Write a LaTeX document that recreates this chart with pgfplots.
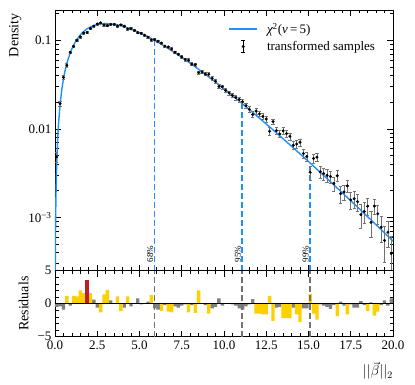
\documentclass[border=0pt]{standalone}
\usepackage{fontspec}
\setmainfont{Liberation Serif}
\usepackage{pgfplots}
\pgfplotsset{compat=1.18}

\definecolor{curveblue}{RGB}{30,144,255}
\definecolor{resgold}{RGB}{255,208,0}
\definecolor{resgray}{RGB}{128,128,128}
\definecolor{resred}{RGB}{190,30,40}
\definecolor{qgray}{RGB}{115,115,115}

% histogram of transformed samples: bin centre, density, error
\pgfplotstableread{
x y e
0.1 0.004830 0.000613
0.3 0.019311 0.001251
0.5 0.038187 0.001745
0.7 0.052319 0.002138
0.9 0.073134 0.002455
1.1 0.085258 0.002714
1.3 0.099681 0.002926
1.5 0.109203 0.003099
1.7 0.120802 0.003238
1.9 0.122641 0.003348
2.1 0.136122 0.003433
2.3 0.144775 0.003496
2.5 0.152725 0.003540
2.7 0.157583 0.003567
2.9 0.149040 0.003580
3.1 0.146534 0.003580
3.3 0.151316 0.003569
3.5 0.150958 0.003549
3.7 0.144943 0.003519
3.9 0.149546 0.003482
4.1 0.144185 0.003439
4.3 0.134392 0.003390
4.5 0.135132 0.003337
4.7 0.129061 0.003279
4.9 0.121895 0.003219
5.1 0.119906 0.003154
5.3 0.114328 0.003088
5.5 0.108748 0.003021
5.7 0.100842 0.002952
5.9 0.101763 0.002881
6.1 0.097411 0.002810
6.3 0.093123 0.002739
6.5 0.085982 0.002666
6.7 0.084024 0.002594
6.9 0.079797 0.002523
7.1 0.073247 0.002452
7.3 0.069600 0.002381
7.5 0.064931 0.002312
7.7 0.060689 0.002243
7.9 0.059685 0.002175
8.1 0.053832 0.002108
8.3 0.052987 0.002042
8.5 0.043052 0.001978
8.7 0.043949 0.001914
8.9 0.041606 0.001852
9.1 0.041262 0.001792
9.3 0.037275 0.001732
9.5 0.034525 0.001674
9.7 0.030156 0.001618
9.9 0.029810 0.001562
10.1 0.027207 0.001509
10.3 0.025422 0.001456
10.5 0.023884 0.001406
10.7 0.022506 0.001356
10.9 0.021476 0.001308
11.1 0.020253 0.001262
11.3 0.018254 0.001216
11.5 0.016623 0.001171
11.7 0.014536 0.001129
11.9 0.015857 0.001087
12.1 0.014769 0.001047
12.3 0.013853 0.001009
12.5 0.012900 0.000971
12.7 0.009391 0.000935
12.9 0.012079 0.000900
13.1 0.009537 0.000866
13.3 0.008764 0.000833
13.5 0.009486 0.000801
13.7 0.008841 0.000771
13.9 0.008238 0.000742
14.1 0.006535 0.000713
14.3 0.006740 0.000685
14.5 0.007060 0.000659
14.7 0.005260 0.000633
14.9 0.004873 0.000609
15.1 0.003229 0.000584
15.3 0.004630 0.000561
15.5 0.004790 0.000539
15.7 0.003276 0.000519
15.9 0.003123 0.000498
16.1 0.002980 0.000477
16.3 0.002893 0.000458
16.5 0.002417 0.000440
16.7 0.002949 0.000423
16.9 0.001855 0.000405
17.1 0.001937 0.000390
17.3 0.002272 0.000373
17.5 0.001578 0.000359
17.7 0.001626 0.000343
17.9 0.001505 0.000330
18.1 0.001076 0.000316
18.3 0.001167 0.000303
18.5 0.001338 0.000292
18.7 0.000879 0.000279
18.9 0.001341 0.000267
19.1 0.001098 0.000257
19.3 0.000775 0.000246
19.5 0.000549 0.000236
19.7 0.000681 0.000226
19.9 0.000390 0.000217
}\samples

\pgfplotsset{
  panel/.style={
    scale only axis, width=338pt,
    xmin=0, xmax=20,
    axis line style={line width=0.8pt},
    tick align=inside, xtick pos=both, ytick pos=both,
    major tick length=6pt, minor tick length=3.5pt,
    every tick/.style={black, line width=0.7pt},
    xtick={0,2.5,5,7.5,10,12.5,15,17.5,20}, minor x tick num=4,
    tick label style={font=\fontsize{13}{15}\selectfont},
    /pgf/number format/assume math mode=true,
    label style={font=\fontsize{14}{16}\selectfont},
  },
  qline/.style={line width=1.3pt, dash pattern=on 6pt off 3pt},
}

\begin{document}
\begin{tikzpicture}
\useasboundingbox (-55pt,-48.3pt) rectangle (360pt,336.7pt);

% ---------------- main panel ----------------
\begin{axis}[
    panel,
    at={(0,66pt)}, anchor=south west,
    height=260.7pt,
    ymode=log, ymin=2.5e-4, ymax=0.22,
    ytick={0.001,0.01,0.1},
    yticklabels={10\textsuperscript{−3},0.01,0.1},
    minor ytick={3e-4,4e-4,5e-4,6e-4,7e-4,8e-4,9e-4,
                 2e-3,3e-3,4e-3,5e-3,6e-3,7e-3,8e-3,9e-3,
                 2e-2,3e-2,4e-2,5e-2,6e-2,7e-2,8e-2,9e-2,0.2},
    xticklabels={},
    ylabel={Density},
    ylabel style={at={(rel axis cs:0,1)}, anchor=south east, yshift=30pt},
    legend style={at={(0.962,0.965)}, anchor=north east, draw=none, fill=none,
                  font=\fontsize{13}{15}\selectfont, row sep=2pt,
                  /tikz/every odd column/.append style={column sep=7pt}},
    legend cell align=left,
]
% quantile markers
\addplot[forget plot, curveblue, qline] coordinates {(5.89,2.5e-4) (5.89,0.0999)};
\addplot[forget plot, curveblue, qline] coordinates {(11.07,2.5e-4) (11.07,0.01932)};
\addplot[forget plot, curveblue, qline] coordinates {(15.09,2.5e-4) (15.09,0.004121)};
\node[rotate=90, anchor=south west, inner sep=1pt, font=\fontsize{9}{10}\selectfont]
  at (axis cs:5.89,3.0e-4) {68\%};
\node[rotate=90, anchor=south west, inner sep=1pt, font=\fontsize{9}{10}\selectfont]
  at (axis cs:11.07,3.0e-4) {95\%};
\node[rotate=90, anchor=south west, inner sep=1pt, font=\fontsize{9}{10}\selectfont]
  at (axis cs:15.09,3.0e-4) {99\%};

% chi-square(5) density
\addplot[curveblue, line width=1.4pt,
  legend image code/.code={\draw[curveblue, line width=1.6pt] (0pt,0pt) -- (28pt,0pt);}]
  coordinates {
  (0.01,1.3232e-4) (0.02,3.7238e-4) (0.03,6.8070e-4) (0.05,0.0014501)
  (0.075,0.002631) (0.1,0.004000) (0.15,0.007167) (0.2,0.010762)
  (0.3,0.018810) (0.4,0.027544) (0.5,0.036616) (0.6,0.045785)
  (0.7,0.054884) (0.9,0.072397) (1.1,0.088515) (1.3,0.102899)
  (1.5,0.115400) (1.7,0.125983) (1.9,0.134692) (2.1,0.141615)
  (2.3,0.146873) (2.5,0.150602) (2.7,0.152946) (2.9,0.154052)
  (3.1,0.154052) (3.3,0.153100) (3.5,0.151313) (3.7,0.148814)
  (3.9,0.145716) (4.1,0.142121) (4.3,0.138121) (4.5,0.133797)
  (4.7,0.129225) (4.9,0.124470) (5.1,0.119590) (5.3,0.114636)
  (5.5,0.109654) (5.7,0.104679) (5.9,0.099747) (6.1,0.094883)
  (6.3,0.090111) (6.5,0.085449) (6.7,0.080911) (6.9,0.076517)
  (7.1,0.072266) (7.3,0.068171) (7.5,0.064237) (7.7,0.060465)
  (7.9,0.056857) (8.1,0.053410) (8.3,0.050128) (8.5,0.047007)
  (8.7,0.044045) (8.9,0.041236) (9.1,0.038574) (9.3,0.036062)
  (9.5,0.033688) (9.7,0.031450) (9.9,0.029342) (10.1,0.027358)
  (10.3,0.025494) (10.5,0.023743) (10.7,0.022100) (10.9,0.020560)
  (11.1,0.019118) (11.3,0.017768) (11.5,0.016506) (11.7,0.015327)
  (11.9,0.014225) (12.1,0.013198) (12.3,0.012239) (12.5,0.011346)
  (12.7,0.010513) (12.9,0.0097379) (13.1,0.0090169) (13.3,0.0083466)
  (13.5,0.0077234) (13.7,0.0071439) (13.9,0.0066063) (14.1,0.0061071)
  (14.3,0.0056441) (14.5,0.0052145) (14.7,0.0048162) (14.9,0.0044470)
  (15.1,0.0041051) (15.3,0.0037885) (15.5,0.0034954) (15.7,0.0032242)
  (15.9,0.0029733) (16.1,0.0027413) (16.3,0.0025268) (16.5,0.0023285)
  (16.7,0.0021454) (16.9,0.0019762) (17.1,0.0018200) (17.3,0.0016757)
  (17.5,0.0015426) (17.7,0.0014198) (17.9,0.0013065) (18.1,0.0012021)
  (18.3,0.0011058) (18.5,0.0010170) (18.7,0.00093518) (18.9,0.00085981)
  (19.1,0.00079038) (19.3,0.00072645) (19.5,0.00066754) (19.7,0.00061335)
  (19.9,0.00056347) (20,0.00053999)
  };
\addlegendentry{{\itshape χ}\textsuperscript{2}({\itshape ν}\,=\,5)}

% samples with error bars
\addplot[only marks, mark=*, mark size=1.3pt, black,
  legend image code/.code={
    \draw[black, line width=0.6pt] (14pt,-6pt) -- (14pt,6pt)
      (12pt,-6pt) -- (16pt,-6pt) (12pt,6pt) -- (16pt,6pt);
    \fill[black] (14pt,0pt) circle (1.4pt);},
  error bars/.cd, y dir=both, y explicit,
  error bar style={black!55, line width=0.6pt},
  error mark options={rotate=90, mark size=1.6pt, black!55, line width=0.6pt}]
  table[x=x, y=y, y error=e] {\samples};
\addlegendentry{transformed samples}
\end{axis}

% ---------------- residual panel ----------------
\begin{axis}[
    panel,
    at={(0,0)}, anchor=south west,
    height=66pt,
    ymin=-5, ymax=5,
    ytick={-5,0,5}, yticklabels={−5,0,5},
    minor y tick num=4,
    xticklabel style={yshift=-1pt, /pgf/number format/.cd, fixed, fixed zerofill, precision=1},
    ylabel={Residuals},
    ylabel style={at={(rel axis cs:0,0.5)}, anchor=south, yshift=23pt},
    xlabel={$||\vec{\beta}||_2$},
    xlabel style={at={(rel axis cs:1,0)}, anchor=north east, inner sep=0pt, yshift=-25pt},
]
\addplot[ybar, bar width=0.2, bar shift=0pt, fill=resgray, draw=none] coordinates {
  (0.1,-0.5) (0.3,-0.4) (0.5,-0.9) (0.9,-0.3) (2.3,0.6) (2.5,-0.6) (3.3,0.5)
  (3.5,0.1) (4.1,-0.6) (4.5,-0.4) (4.7,0.05) (4.9,0.8) (5.1,-0.1) (5.3,0.1)
  (5.5,0.3) (5.9,-0.7) (6.1,-0.9) (6.5,-0.2) (7.1,-0.4) (7.3,-0.6) (7.5,-0.3)
  (7.7,-0.1) (8.1,-0.2) (8.7,0.05) (8.9,-0.2) (9.3,-0.7) (9.5,-0.5) (9.7,0.8)
  (9.9,-0.3) (10.1,0.1) (10.3,0.05) (10.5,-0.1) (10.7,-0.3) (10.9,-0.7)
  (11.1,-0.9) (11.3,-0.4) (11.5,-0.1) (11.7,0.7) (13.1,-0.6) (13.3,-0.5)
  (14.1,-0.6) (14.7,-0.7) (14.9,-0.7) (15.7,-0.1) (15.9,-0.3) (16.1,-0.5)
  (16.3,-0.8) (16.5,-0.2) (16.9,0.3) (17.1,-0.3) (17.5,-0.1) (17.7,-0.6)
  (17.9,-0.6) (18.1,0.4) (18.3,-0.2) (18.7,0.2) (19.3,-0.2) (19.5,0.5)
  (19.7,-0.3) (19.9,0.8)
};
\addplot[ybar, bar width=0.2, bar shift=0pt, fill=resgold, draw=none] coordinates {
  (0.7,1.2) (1.1,1.2) (1.3,1.1) (1.5,2.0) (1.7,1.6) (2.1,1.6) (2.7,-1.3)
  (2.9,1.4) (3.1,2.1) (3.7,1.1) (3.9,-1.1) (4.3,1.1) (5.7,1.3) (6.3,-1.1)
  (6.7,-1.2) (6.9,-1.3) (7.9,-1.3) (8.3,-1.4) (8.5,2.0) (9.1,-1.5)
  (11.9,-1.5) (12.1,-1.5) (12.3,-1.6) (12.5,-1.6) (12.7,1.2) (12.9,-2.6)
  (13.5,-2.2) (13.7,-2.2) (13.9,-2.2) (14.3,-1.6) (14.5,-2.8) (15.1,1.5)
  (15.3,-1.5) (15.5,-2.4) (16.7,-1.9) (17.3,-1.6) (18.5,-1.1) (18.9,-1.8)
  (19.1,-1.2)
};
\addplot[ybar, bar width=0.2, bar shift=0pt, fill=resred, draw=none] coordinates {
  (1.9,3.6)
};
\addplot[qgray, qline] coordinates {(5.89,-5) (5.89,5)};
\addplot[qgray, qline] coordinates {(11.07,-5) (11.07,5)};
\addplot[qgray, qline] coordinates {(15.09,-5) (15.09,5)};
\addplot[black, line width=0.9pt] coordinates {(0,0) (20,0)};
\end{axis}
\end{tikzpicture}
\end{document}
